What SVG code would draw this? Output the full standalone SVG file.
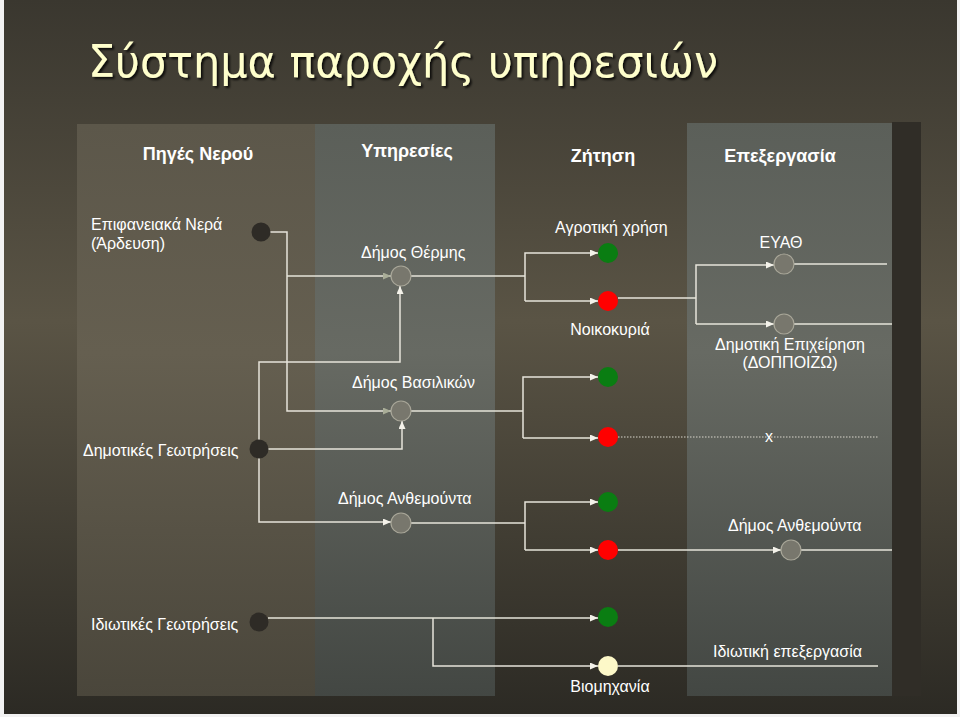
<svg xmlns="http://www.w3.org/2000/svg" width="960" height="717" viewBox="0 0 960 717">
<defs>
<linearGradient id="bg" x1="0" y1="0" x2="0" y2="1">
<stop offset="0" stop-color="#3a372f"/>
<stop offset="0.45" stop-color="#5a5445"/>
<stop offset="1" stop-color="#2c2a24"/>
</linearGradient>
<linearGradient id="pBrown" x1="0" y1="0" x2="0" y2="1">
<stop offset="0" stop-color="#5c574a"/>
<stop offset="0.4" stop-color="#655f50"/>
<stop offset="1" stop-color="#4a463b"/>
</linearGradient>
<linearGradient id="pGray" x1="0" y1="0" x2="0" y2="1">
<stop offset="0" stop-color="#5b5f59"/>
<stop offset="0.4" stop-color="#676a63"/>
<stop offset="1" stop-color="#434743"/>
</linearGradient>
<filter id="shadow" x="-5%" y="-20%" width="110%" height="150%">
<feDropShadow dx="2" dy="2" stdDeviation="0.8" flood-color="#000" flood-opacity="0.8"/>
</filter>
<marker id="arr" viewBox="0 0 8 7" markerWidth="8" markerHeight="7" refX="8" refY="3.5" orient="auto" markerUnits="userSpaceOnUse">
<path d="M0,0 L8,3.5 L0,7 z" fill="#f4f2ea"/>
</marker>
<marker id="arrG" viewBox="0 0 8 7" markerWidth="8" markerHeight="7" refX="8" refY="3.5" orient="auto" markerUnits="userSpaceOnUse">
<path d="M0,0 L8,3.5 L0,7 z" fill="#a9ad98"/>
</marker>
</defs>
<style>
.ln{fill:none;stroke:#e6e4da;stroke-width:1.5}
.dot{fill:none;stroke:#d8d6cc;stroke-width:1;stroke-dasharray:1.5 1.5}
.lbl{font-family:"Liberation Sans",Arial,sans-serif;font-size:16px;fill:#ffffff}
.hdr{font-family:"Liberation Sans",Arial,sans-serif;font-size:18px;font-weight:bold;fill:#ffffff;text-anchor:middle}
.src{fill:#2e2b26}
.svc{fill:#78776d;stroke:#a8a698;stroke-width:1.2}
.grn{fill:#0a7d12}
.red{fill:#ff0000}
.ind{fill:#fdf8c8}
.mid{text-anchor:middle}
</style>
<rect x="0" y="0" width="960" height="717" fill="#f2f2f2"/>
<rect x="4" y="0" width="953" height="714" fill="url(#bg)"/>

<g id="panels">
<rect x="77" y="124" width="238" height="572" fill="url(#pBrown)"/>
<rect x="315" y="124" width="180" height="572" fill="url(#pGray)"/>
<rect x="687" y="123" width="205" height="573" fill="url(#pGray)"/>
<rect x="892" y="122" width="29" height="574" fill="#302d27"/>
</g>

<text id="title" x="88" y="77" textLength="630" lengthAdjust="spacingAndGlyphs" style="font-family:'DejaVu Sans',Verdana,sans-serif;font-size:44px;fill:#ffffcc" filter="url(#shadow)">Σύστημα παροχής υπηρεσιών</text>

<g id="headers">
<text class="hdr" x="198" y="160">Πηγές Νερού</text>
<text class="hdr" x="407" y="157">Υπηρεσίες</text>
<text class="hdr" x="603" y="162">Ζήτηση</text>
<text class="hdr" x="780" y="162">Επεξεργασία</text>
</g>

<g id="connectors">
<path class="ln" d="M270,232 H287 V411 H391" marker-end="url(#arrG)"/>
<path class="ln" d="M287,276 H391" marker-end="url(#arrG)"/>
<path class="ln" d="M259,440 V362 H400 V286" marker-end="url(#arr)"/>
<path class="ln" d="M268,449 H402 V421" marker-end="url(#arr)"/>
<path class="ln" d="M259,458 V522 H391" marker-end="url(#arr)"/>
<path class="ln" d="M411,276 H525"/>
<path class="ln" d="M525,301 V253 H598" marker-end="url(#arr)"/>
<path class="ln" d="M525,301 H598" marker-end="url(#arr)"/>
<path class="ln" d="M618,298 H696"/>
<path class="ln" d="M696,324 V265 H774" marker-end="url(#arr)"/>
<path class="ln" d="M696,324 H774" marker-end="url(#arr)"/>
<path class="ln" d="M794,264 H887"/>
<path class="ln" d="M794,324 H892"/>
<path class="ln" d="M411,411 H523"/>
<path class="ln" d="M523,438 V377 H598" marker-end="url(#arr)"/>
<path class="ln" d="M523,438 H598" marker-end="url(#arr)"/>
<path class="dot" d="M618,437 H878"/>
<path class="ln" d="M411,523 H525"/>
<path class="ln" d="M525,550 V502 H598" marker-end="url(#arr)"/>
<path class="ln" d="M525,550 H598" marker-end="url(#arr)"/>
<path class="ln" d="M618,550 H781" marker-end="url(#arr)"/>
<path class="ln" d="M801,550 H892"/>
<path class="ln" d="M268,618 H598" marker-end="url(#arr)"/>
<path class="ln" d="M433,618 V666 H598" marker-end="url(#arr)"/>
<path class="ln" d="M618,666 H878"/>
</g>

<g id="n-epifaneiaka">
<circle class="src" cx="261" cy="232" r="9.5"/>
<text class="lbl" x="91" y="230">Επιφανειακά Νερά</text>
<text class="lbl" x="91" y="249">(Άρδευση)</text>
</g>
<g id="n-dimotikes-geotriseis">
<circle class="src" cx="259" cy="449" r="9.5"/>
<text class="lbl" x="83" y="456">Δημοτικές Γεωτρήσεις</text>
</g>
<g id="n-idiotikes-geotriseis">
<circle class="src" cx="259" cy="622" r="9.5"/>
<text class="lbl" x="91" y="630">Ιδιωτικές Γεωτρήσεις</text>
</g>

<g id="n-thermis">
<circle class="svc" cx="401" cy="276" r="10"/>
<text class="lbl" x="361" y="258">Δήμος Θέρμης</text>
</g>
<g id="n-vasilikon">
<circle class="svc" cx="401" cy="411" r="10"/>
<text class="lbl" x="352" y="388">Δήμος Βασιλικών</text>
</g>
<g id="n-anthemounta">
<circle class="svc" cx="401" cy="523" r="10"/>
<text class="lbl" x="338" y="504">Δήμος Ανθεμούντα</text>
</g>

<g id="n-agrotiki">
<circle class="grn" cx="608" cy="253" r="10"/>
<text class="lbl" x="555" y="233">Αγροτική χρήση</text>
</g>
<g id="n-noikokyria">
<circle class="red" cx="608" cy="301" r="10"/>
<text class="lbl mid" x="610" y="335">Νοικοκυριά</text>
</g>
<g id="n-green2"><circle class="grn" cx="608" cy="377" r="10"/></g>
<g id="n-red2"><circle class="red" cx="608" cy="437" r="10"/></g>
<g id="n-green3"><circle class="grn" cx="608" cy="502" r="10"/></g>
<g id="n-red3"><circle class="red" cx="608" cy="550" r="10"/></g>
<g id="n-green4"><circle class="grn" cx="608" cy="617" r="10"/></g>
<g id="n-viomichania">
<circle class="ind" cx="608" cy="666" r="10"/>
<text class="lbl mid" x="610" y="692">Βιομηχανία</text>
</g>

<g id="n-eyath">
<circle class="svc" cx="784" cy="264" r="10"/>
<text class="lbl mid" x="781" y="248">ΕΥΑΘ</text>
</g>
<g id="n-doppoizo">
<circle class="svc" cx="784" cy="324" r="10"/>
<text class="lbl mid" x="790" y="350">Δημοτική Επιχείρηση</text>
<text class="lbl mid" x="790" y="368">(ΔΟΠΠΟΙΖΩ)</text>
</g>
<g id="n-x">
<text class="lbl mid" x="769" y="442">x</text>
</g>
<g id="n-anthemounta-epex">
<circle class="svc" cx="791" cy="550" r="10"/>
<text class="lbl" x="728" y="531">Δήμος Ανθεμούντα</text>
</g>
<g id="n-idiotiki-epex">
<text class="lbl" x="713" y="657">Ιδιωτική επεξεργασία</text>
</g>
</svg>
